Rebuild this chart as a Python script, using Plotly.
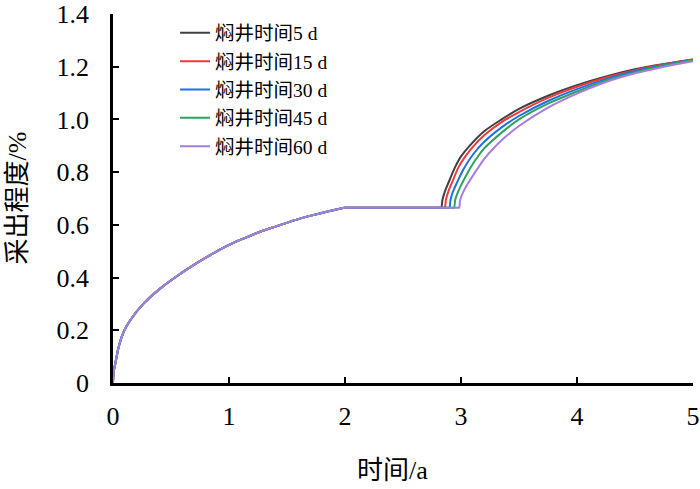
import plotly.graph_objects as go

# Shared early-stage curve (0-2 a), then plateau
t_early = [0, 0.005, 0.02, 0.049, 0.092, 0.15, 0.265, 0.409, 0.553, 0.697, 0.841,
           1.0, 1.13, 1.274, 1.418, 1.562, 1.706, 1.85, 2.0, 2.05]
y_early = [0, 0.04, 0.074, 0.137, 0.194, 0.239, 0.302, 0.359, 0.406, 0.448, 0.486,
           0.524, 0.549, 0.575, 0.596, 0.617, 0.635, 0.651, 0.665, 0.665]

series_names = ["焖井时间5 d", "焖井时间15 d", "焖井时间30 d", "焖井时间45 d", "焖井时间60 d"]

t_5 = [2.82, 2.83, 2.84, 2.86, 2.89, 2.95, 3.0, 3.07, 3.2, 3.35, 3.5, 3.75, 4.0, 4.25, 4.5, 4.75, 5.0]
y_5 = [0.665, 0.665, 0.695, 0.725, 0.758, 0.82, 0.86, 0.898, 0.955, 1.0, 1.04, 1.09, 1.13, 1.163, 1.19, 1.21, 1.227]

t_15 = [2.85, 2.86, 2.87, 2.89, 2.92, 2.98, 3.03, 3.1, 3.2, 3.35, 3.5, 3.75, 4.0, 4.25, 4.5, 4.75, 5.0]
y_15 = [0.665, 0.665, 0.695, 0.725, 0.758, 0.82, 0.855, 0.895, 0.94, 0.99, 1.028, 1.082, 1.124, 1.159, 1.187, 1.209, 1.227]

t_30 = [2.89, 2.90, 2.91, 2.93, 2.96, 3.02, 3.1, 3.2, 3.35, 3.5, 3.75, 4.0, 4.25, 4.5, 4.75, 5.0]
y_30 = [0.665, 0.665, 0.695, 0.725, 0.755, 0.81, 0.865, 0.915, 0.97, 1.013, 1.07, 1.115, 1.153, 1.184, 1.207, 1.226]

t_45 = [2.93, 2.94, 2.95, 2.97, 3.0, 3.06, 3.1, 3.2, 3.35, 3.5, 3.75, 4.0, 4.25, 4.5, 4.75, 5.0]
y_45 = [0.665, 0.665, 0.695, 0.72, 0.75, 0.80, 0.83, 0.89, 0.95, 1.0, 1.06, 1.106, 1.147, 1.179, 1.205, 1.226]

t_60 = [2.975, 2.985, 2.99, 3.0, 3.02, 3.05, 3.1, 3.15, 3.2, 3.275, 3.35, 3.5, 3.75, 4.0, 4.25, 4.5, 4.75, 5.0]
y_60 = [0.665, 0.665, 0.685, 0.705, 0.725, 0.75, 0.785, 0.818, 0.85, 0.888, 0.921, 0.975, 1.045, 1.098, 1.142, 1.175, 1.2, 1.221]

late_t = [t_5, t_15, t_30, t_45, t_60]
late_y = [y_5, y_15, y_30, y_45, y_60]
colors = ["#404040", "#f03a3a", "#1f6fe6", "#2ea25e", "#a67ee0"]

x_ticks = [0, 1, 2, 3, 4, 5]
y_ticks = [0, 0.2, 0.4, 0.6, 0.8, 1.0, 1.2, 1.4]
y_tick_text = ["0", "0.2", "0.4", "0.6", "0.8", "1.0", "1.2", "1.4"]

FONT = "Liberation Serif, Times New Roman, Noto Sans CJK SC, serif"

fig = go.Figure()
for name, tt, yy, c in zip(series_names, late_t, late_y, colors):
    fig.add_trace(go.Scatter(
        x=t_early + tt, y=y_early + yy, mode="lines", name=name,
        line=dict(color=c, width=2, shape="spline", smoothing=0.8),
    ))

fig.update_layout(
    width=700, height=489,
    margin=dict(l=113, r=7, t=14, b=106),
    paper_bgcolor="white", plot_bgcolor="white",
    font=dict(family=FONT, size=26, color="black"),
    showlegend=True,
    legend=dict(
        x=0.107, y=1.001, xanchor="left", yanchor="top",
        font=dict(family=FONT, size=19.5, color="black"),
        bgcolor="rgba(0,0,0,0)", itemwidth=30, tracegroupgap=0,
    ),
    xaxis=dict(
        range=[0, 5], tickvals=x_ticks, ticks="inside", ticklen=6, tickwidth=2,
        tickcolor="black", showline=True, linecolor="black", linewidth=2.5,
        showgrid=False, zeroline=False, ticklabelstandoff=8, automargin=False,
        tickfont=dict(family=FONT, size=26),
    ),
    yaxis=dict(
        range=[0, 1.4], tickvals=y_ticks, ticktext=y_tick_text, ticks="inside",
        ticklen=6, tickwidth=2, tickcolor="black", showline=True,
        linecolor="black", linewidth=2.5, showgrid=False, zeroline=False,
        ticklabelstandoff=16, automargin=False, tickfont=dict(family=FONT, size=26),
    ),
    annotations=[
        dict(text="时间/a", x=0.5, y=0, xref="paper", yref="paper",
             xanchor="center", yanchor="middle", yshift=-87, xshift=-11,
             showarrow=False, font=dict(family=FONT, size=26)),
        dict(text="采出程度/%", x=0, y=0.5, xref="paper", yref="paper",
             xanchor="center", yanchor="middle", xshift=-96, textangle=-90,
             showarrow=False, font=dict(family=FONT, size=26)),
    ],
)

fig.write_html("out.html", config={"displayModeBar": False},
               post_script="document.body.style.margin='0';")
